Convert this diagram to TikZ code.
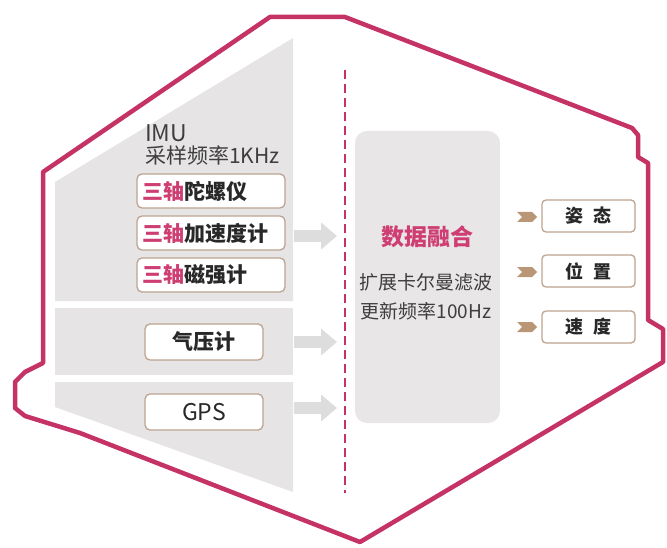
\documentclass[tikz,border=0pt]{standalone}
\usepackage{fontspec}
\setmainfont{Noto Sans CJK SC}
\usetikzlibrary{arrows.meta,shapes.symbols}
\definecolor{rim}{RGB}{196,50,102}
\definecolor{rose}{RGB}{206,62,114}
\definecolor{panel}{RGB}{230,228,228}
\definecolor{fusegray}{RGB}{232,230,231}
\definecolor{feedgray}{RGB}{222,221,221}
\definecolor{boxrim}{RGB}{188,164,144}
\definecolor{chevc}{RGB}{184,150,118}
\definecolor{ink}{RGB}{40,40,40}
\definecolor{labgray}{RGB}{62,62,62}

\begin{document}
\begin{tikzpicture}[x=1bp, y=-1bp,
    sensor/.style={draw=boxrim, line width=1.3bp, fill=white, rounded corners=5bp,
        minimum height=34bp, inner ysep=0pt, inner xsep=5bp, text width=138bp, align=left,
        font=\fontsize{21bp}{24bp}\selectfont\bfseries, text=ink},
    single/.style={draw=boxrim, line width=1.3bp, fill=white, rounded corners=5bp,
        minimum height=36bp, minimum width=118bp, inner sep=0pt,
        font=\fontsize{21bp}{24bp}\selectfont\bfseries, text=ink},
    result/.style={draw=boxrim, line width=1.3bp, fill=white, rounded corners=4bp,
        minimum height=32bp, minimum width=93bp, inner sep=0pt,
        font=\fontsize{18bp}{20bp}\selectfont\bfseries, text=ink},
    chevron/.style={signal, signal from=west, signal to=east, fill=chevc, draw=none,
        minimum width=20bp, minimum height=10bp, inner sep=0pt},
    feed/.style={draw=feedgray, line width=12bp, shorten <=8bp,
        -{Triangle[width=26bp,length=16bp]}},
    caption/.style={anchor=west, inner sep=0pt, text=labgray,
        font=\fontsize{21bp}{23bp}\selectfont}]
    \useasboundingbox (0,0) rectangle (667,548);

    % --- grey panels behind the sensors ---
    \fill[panel] (55,182) -- (293,38) -- (293,301) -- (55,301) -- cycle;
    \fill[panel] (55,308) rectangle (293,375);
    \fill[panel] (55,382) -- (293,382) -- (293,492) -- (55,407) -- cycle;

    % --- outer frame ---
    \draw[rim, line width=4.5bp, line join=round]
        (43,363) -- (43,172) -- (270,17) -- (345,17) -- (632,128) -- (638,135)
        -- (638,157) -- (648,163) -- (648,320) -- (663,329) -- (663,362)
        -- (360,542) -- (80,433) -- (25,416) -- (15,408) -- (15,382)
        -- (25,372) -- cycle;

    % --- dashed divider ---
    \coordinate (dtop) at (345,70);
    \coordinate (dbot) at (345,493);
    \draw[rim, line width=2bp, dash pattern=on 9bp off 5bp] (dtop) -- (dbot);

    % --- sensors ---
    \node[caption, font=\fontsize{23bp}{25bp}\selectfont] (imu) at (145,133) {IMU};
    \node[caption] (imurate) at (145,155) {采样频率1KHz};
    \node[sensor] (gyro) at (211,191) {\textcolor{rose}{三轴}陀螺仪};
    \node[sensor] (accel) at (211,233) {\textcolor{rose}{三轴}加速度计};
    \node[sensor] (mag) at (211,275) {\textcolor{rose}{三轴}磁强计};
    \node[single] (baro) at (204,342) {气压计};
    \node[single, font=\fontsize{23bp}{25bp}\selectfont] (gps) at (204,412) {GPS};

    % --- feeds into the fusion block ---
    \coordinate (in1) at (337,236);
    \coordinate (in2) at (337,342);
    \coordinate (in3) at (337,408);
    \draw[feed] (in1 -| accel.east) -- (in1);
    \draw[feed] (in2 -| accel.east) -- (in2);
    \draw[feed] (in3 -| accel.east) -- (in3);

    % --- fusion block ---
    \node[fill=fusegray, rounded corners=12bp, minimum width=145bp, minimum height=292bp,
        inner sep=0pt] (fusion) at (427.5,277) {};
    \node[text=rose, font=\fontsize{23bp}{26bp}\selectfont\bfseries] (fusetitle) at (427,237) {数据融合};
    \node[text=labgray, font=\fontsize{19bp}{22bp}\selectfont] (ekf) at (426,282) {扩展卡尔曼滤波};
    \node[text=labgray, font=\fontsize{19bp}{22bp}\selectfont] (ekfrate) at (426,311) {更新频率100Hz};

    % --- outputs ---
    \node[chevron] (chev1) at (527,217) {};
    \node[chevron] (chev2) at (527,272) {};
    \node[chevron] (chev3) at (527,327) {};
    \node[result] (att) at (588.5,216) {姿\hspace{0.6em}态};
    \node[result] (pos) at (588.5,271) {位\hspace{0.6em}置};
    \node[result] (vel) at (588.5,327) {速\hspace{0.6em}度};
\end{tikzpicture}
\end{document}
